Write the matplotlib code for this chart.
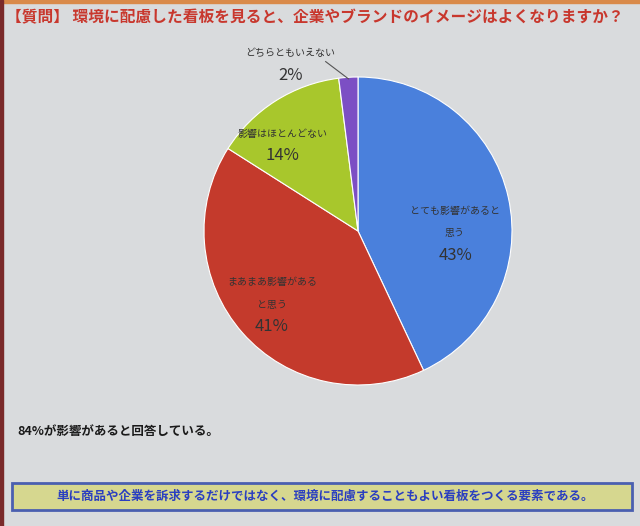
import numpy as np
import matplotlib
matplotlib.use("Agg")
import matplotlib.pyplot as plt
from matplotlib.patches import Rectangle

plt.rcParams['font.family'] = ['Noto Sans CJK JP', 'DejaVu Sans']

# ── data ────────────────────────────────────────────────────────────────
categories = ["とても影響があると\n思う", "まあまあ影響がある\nと思う",
              "影響はほとんどない", "どちらともいえない"]
shares = [43, 41, 14, 2]
colors = ["#4a80dc", "#c43a2c", "#a8c72c", "#7c4fc4"]
# percent-label centres (data units of the pie axes, radius = 1)
label_pos = [(0.63, -0.156), (-0.56, -0.62), (-0.49, 0.49), (-0.44, 1.01)]

title = "【質問】 環境に配慮した看板を見ると、企業やブランドのイメージはよくなりますか？"
note = "84%が影響があると回答している。"
conclusion = "単に商品や企業を訴求するだけではなく、環境に配慮することもよい看板をつくる要素である。"

W, H = 640, 526
fig = plt.figure(figsize=(W / 100, H / 100), dpi=100)
fig.patch.set_facecolor("#d9dbdd")

# slide frame
fig.add_artist(Rectangle((0, 1 - 3 / H), 1, 3 / H, transform=fig.transFigure,
                         color="#d98a4a", zorder=0))
fig.add_artist(Rectangle((0, 0), 3 / W, 1, transform=fig.transFigure,
                         color="#7a2a2a", zorder=0))

fig.text(6 / W, 1 - 17 / H, title, color="#c8372d", fontsize=11.3,
         fontweight="bold", va="center", ha="left")

# ── pie ────────────────────────────────────────────────────────────────
cx, cy, r = 358, 231, 154
half = 1.04 * r
ax = fig.add_axes([(cx - half) / W, (H - cy - half) / H, 2 * half / W, 2 * half / H])

wedges, _ = ax.pie(shares, colors=colors, startangle=90, counterclock=False,
                   wedgeprops=dict(edgecolor="white", linewidth=0.8), radius=1)
ax.set_xlim(-1.04, 1.04)
ax.set_ylim(-1.04, 1.04)
ax.set_aspect("equal")
ax.axis("off")

line_h = 22 / r  # one text line, in data units
for (lx, ly), cat, val in zip(label_pos, categories, shares):
    n = cat.count("\n") + 1
    ax.text(lx, ly + line_h * (n + 1) / 2, cat, ha="center", va="center",
            fontsize=7.2, color="#333333", linespacing=2.6)
    ax.text(lx, ly, f"{val}%", ha="center", va="center", fontsize=12,
            color="#333333")

# leader line for the small slice
w = wedges[-1]
mid = np.deg2rad((w.theta1 + w.theta2) / 2)
ax.plot([-0.21, 0.99 * np.cos(mid)], [1.10, 0.99 * np.sin(mid)],
        color="#555555", lw=0.8, clip_on=False)

# ── notes ──────────────────────────────────────────────────────────────
fig.text(17 / W, 1 - 431 / H, note, fontsize=9, fontweight="bold",
         color="#1a1a1a", va="center", ha="left")

fig.add_artist(Rectangle((12 / W, 1 - 510 / H), 620 / W, 27 / H,
                         transform=fig.transFigure, facecolor="#d6d78f",
                         edgecolor="#4a5fb0", linewidth=2))
fig.text(325 / W, 1 - 496.5 / H, conclusion, fontsize=9, fontweight="bold",
         color="#2b3fc0", va="center", ha="center")

fig.savefig("out.png", dpi=100, facecolor=fig.get_facecolor())
